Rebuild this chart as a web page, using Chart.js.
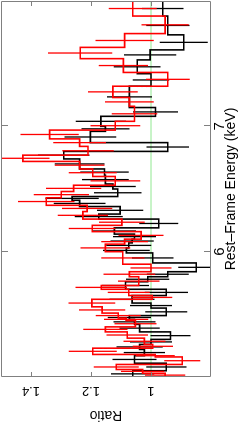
<!DOCTYPE html>
<html>
<head>
<meta charset="utf-8">
<script src="https://cdn.jsdelivr.net/npm/chart.js@4"></script>
<style>
  html, body { margin: 0; padding: 0; background: #fff; overflow: hidden; }
  #wrap { position: absolute; left: 0; top: 0; width: 245px; height: 441px; overflow: hidden; }
  /* the figure is printed turned a quarter turn counter-clockwise */
  #box { position: absolute; left: 0; top: 441px; width: 441px; height: 245px;
         transform-origin: 0 0; transform: rotate(-90deg); }
</style>
</head>
<body>
<div id="wrap"><div id="box"><canvas id="myChart" width="441" height="245"></canvas></div></div>
<script>
// bin edges (keV), ratio and 1-sigma error for the two spectra
const blackEdges = [5.00, 5.05, 5.11, 5.17, 5.22, 5.26, 5.30, 5.36, 5.42, 5.46,
  5.49, 5.55, 5.59, 5.65, 5.70, 5.76, 5.80, 5.84, 5.91, 5.99,
  6.03, 6.07, 6.10, 6.14, 6.19, 6.26, 6.30, 6.36, 6.41, 6.44,
  6.50, 6.54, 6.61, 6.66, 6.74, 6.80, 6.87, 6.96, 7.00, 7.08,
  7.15, 7.32, 7.42, 7.53, 7.61, 7.73, 7.88, 8.00];
const blackRatio = [1.061, 0.949, 1.055, 1.022, 1.038, 1.000, 0.935, 1.038, 1.055, 1.072,
  0.949, 1.000, 1.063, 0.949, 1.085, 1.011, 0.944, 0.849, 0.994, 1.082,
  1.074, 1.063, 1.055, 1.122, 0.974, 1.174, 1.103, 1.238, 1.263, 1.111,
  1.127, 1.152, 1.155, 1.238, 1.291, 0.944, 1.202, 1.152, 1.167, 0.985,
  1.072, 1.000, 1.046, 1.003, 0.891, 0.944, 0.961];
const blackErr = [0.072, 0.067, 0.073, 0.069, 0.077, 0.070, 0.067, 0.067, 0.070, 0.072,
  0.070, 0.070, 0.075, 0.072, 0.078, 0.072, 0.070, 0.060, 0.069, 0.078,
  0.075, 0.072, 0.072, 0.072, 0.065, 0.080, 0.077, 0.086, 0.089, 0.079,
  0.076, 0.078, 0.081, 0.083, 0.086, 0.071, 0.086, 0.080, 0.084, 0.075,
  0.075, 0.061, 0.078, 0.087, 0.080, 0.072, 0.069];

const redEdges = [5.00, 5.03, 5.06, 5.10, 5.16, 5.18, 5.23, 5.26, 5.31, 5.36,
  5.40, 5.45, 5.47, 5.51, 5.56, 5.62, 5.65, 5.70, 5.73, 5.80,
  5.84, 5.90, 6.00, 6.06, 6.10, 6.16, 6.21, 6.26, 6.32, 6.37,
  6.43, 6.48, 6.53, 6.60, 6.66, 6.72, 6.77, 6.84, 6.90, 6.97,
  7.04, 7.16, 7.23, 7.32, 7.43, 7.54, 7.63, 7.74, 7.88, 8.00];
const redRatio = [0.953, 1.028, 1.116, 0.896, 0.986, 1.194, 0.994, 1.022, 1.079, 1.152,
  1.052, 1.083, 1.109, 1.163, 1.197, 0.996, 1.074, 1.166, 1.041, 1.072,
  1.000, 1.094, 1.152, 1.088, 1.033, 1.196, 1.097, 1.227, 1.213, 1.349,
  1.299, 1.258, 1.119, 1.194, 1.238, 1.427, 1.210, 1.238, 1.338, 1.119,
  1.055, 1.072, 1.127, 0.944, 1.092, 1.236, 1.088, 0.953, 1.061];
const redErr = [0.067, 0.072, 0.075, 0.060, 0.065, 0.080, 0.067, 0.070, 0.069, 0.074,
  0.070, 0.074, 0.075, 0.077, 0.078, 0.067, 0.070, 0.086, 0.069, 0.086,
  0.068, 0.072, 0.083, 0.078, 0.075, 0.078, 0.076, 0.084, 0.084, 0.094,
  0.092, 0.092, 0.083, 0.080, 0.083, 0.089, 0.086, 0.088, 0.097, 0.083,
  0.076, 0.081, 0.083, 0.073, 0.082, 0.107, 0.097, 0.079, 0.080];

const energyRange = [5, 8];
const ratioRange = [0.8, 1.5];
const energyLabels = [6, 7];
const ratioLabels = [1.4, 1.2, 1];

const FONT = "'Liberation Sans', Arial, Helvetica, sans-serif";

// histogram outline: two points per bin
const steps = (edges, vals) => {
  const pts = [];
  vals.forEach((v, i) => { pts.push({x: edges[i], y: v}, {x: edges[i + 1], y: v}); });
  return pts;
};
// error bars at bin centres, separated by gaps
const bars = (edges, vals, errs) => {
  const pts = [];
  vals.forEach((v, i) => {
    const c = (edges[i] + edges[i + 1]) / 2;
    pts.push({x: c, y: v - errs[i]}, {x: c, y: v + errs[i]}, {x: c, y: null});
  });
  return pts;
};

const lineSet = (data, color, width) => ({
  data: data, borderColor: color, borderWidth: width,
  pointRadius: 0, tension: 0, spanGaps: false, fill: false
});

// frame and inward ticks on all four sides
const frame = {
  id: 'frame',
  afterDraw(chart) {
    const {ctx, chartArea: a, scales: {x, y}} = chart;
    ctx.save();
    ctx.strokeStyle = '#808080';
    ctx.lineWidth = 1;
    ctx.beginPath();
    ctx.rect(a.left + 0.5, a.top + 0.5, a.right - a.left - 1, a.bottom - a.top - 1);
    x.ticks.forEach(t => {
      const px = Math.round(x.getPixelForValue(t.value)) + 0.5;
      const len = Math.abs(t.value - Math.round(t.value)) < 1e-6 ? 7 : 4;
      ctx.moveTo(px, a.bottom); ctx.lineTo(px, a.bottom - len);
      ctx.moveTo(px, a.top); ctx.lineTo(px, a.top + len);
    });
    y.ticks.forEach(t => {
      const py = Math.round(y.getPixelForValue(t.value)) + 0.5;
      ctx.moveTo(a.left, py); ctx.lineTo(a.left + 5, py);
      ctx.moveTo(a.right, py); ctx.lineTo(a.right - 5, py);
    });
    ctx.stroke();
    ctx.restore();
  }
};

const pick = (list) => (v) => {
  const hit = list.find(l => Math.abs(l - v) < 1e-6);
  return hit === undefined ? null : String(hit);
};

const ctx = document.getElementById('myChart').getContext('2d');
new Chart(ctx, {
  type: 'line',
  data: {
    datasets: [
      lineSet(steps(redEdges, redRatio), '#ff0000', 1.6),
      lineSet(bars(redEdges, redRatio, redErr), '#ff0000', 1.3),
      lineSet(steps(blackEdges, blackRatio), '#000000', 1.6),
      lineSet(bars(blackEdges, blackRatio, blackErr), '#000000', 1.3),
      lineSet([{x: energyRange[0], y: 1}, {x: energyRange[1], y: 1}], '#90e890', 1)
    ]
  },
  options: {
    responsive: false,
    animation: false,
    layout: { padding: { top: 1, right: 1, left: 0, bottom: 0 } },
    plugins: { legend: { display: false }, tooltip: { enabled: false } },
    scales: {
      x: {
        type: 'linear',
        position: 'bottom',
        min: energyRange[0], max: energyRange[1],
        grid: { display: false, drawTicks: false },
        border: { display: false },
        ticks: {
          stepSize: 0.2, autoSkip: false, maxRotation: 0, padding: 0,
          color: '#000', font: { family: FONT, size: 15 },
          callback: pick(energyLabels)
        },
        title: {
          display: true, text: 'Rest\u2013Frame Energy (keV)', color: '#000',
          font: { family: FONT, size: 14 }, padding: { top: 0, bottom: 5 }
        },
        afterFit: (s) => { s.height = 34; s.paddingLeft = 0; s.paddingRight = 0; }
      },
      y: {
        type: 'linear',
        position: 'left',
        min: ratioRange[0], max: ratioRange[1],
        grid: { display: false, drawTicks: false },
        border: { display: false },
        ticks: {
          stepSize: 0.1, autoSkip: false, minRotation: 90, maxRotation: 90,
          crossAlign: 'center', padding: 5,
          color: '#000', font: { family: FONT, size: 13 },
          callback: pick(ratioLabels)
        },
        title: {
          display: true, text: 'Ratio', color: '#000',
          font: { family: FONT, size: 14 }, padding: { top: 18, bottom: 0 }
        },
        afterFit: (s) => { s.width = 64; s.paddingTop = 0; s.paddingBottom = 0; }
      }
    }
  },
  plugins: [frame]
});
</script>
</body>
</html>
